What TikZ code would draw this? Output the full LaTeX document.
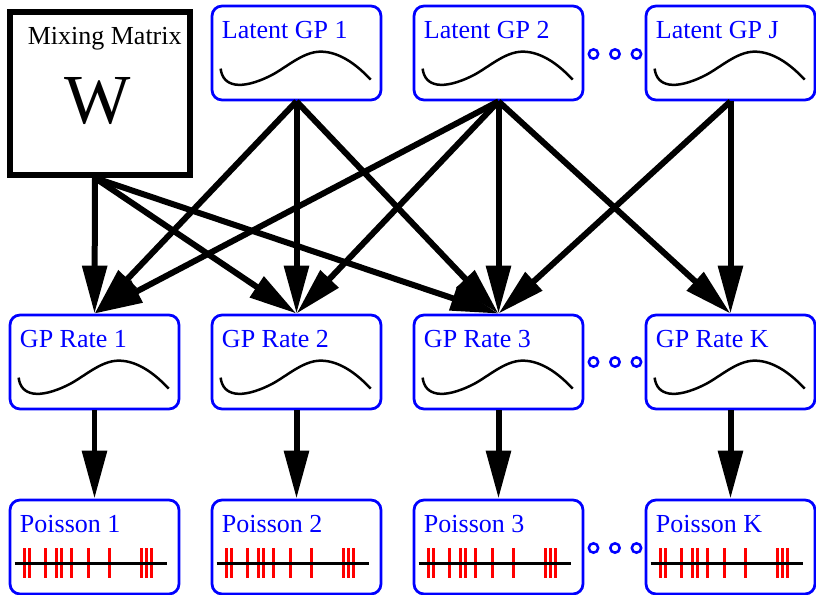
\documentclass[tikz,border=0pt]{standalone}
\usepackage{fontspec}
\setmainfont{Liberation Serif}
\definecolor{gpblue}{RGB}{0,0,255}
\definecolor{spikered}{RGB}{255,0,0}
\usetikzlibrary{arrows.meta,positioning,calc}

\begin{document}
\begin{tikzpicture}[x=0.02cm, y=-0.02cm,
  gpbox/.style={draw=gpblue, line width=0.055cm, rounded corners=0.2cm, minimum width=3.38cm, minimum height=1.88cm, inner sep=0pt},
  gptext/.style={anchor=base west, inner sep=0pt, text=gpblue, font=\fontsize{14.8}{17}\selectfont},
  flow/.style={line width=0.12cm, -{Triangle[length=0.96cm, width=0.48cm]}},
  curve/.style={line width=0.05cm},
  spike/.style={spikered, line width=0.055cm},
  dotc/.style={gpblue, line width=0.05cm}]
  \useasboundingbox (0,0) rectangle (816,595);

  % mixing matrix
  \node[draw, line width=0.12cm, minimum width=3.6cm, minimum height=3.27cm, inner sep=0pt] (mix) at (100,93.25) {};
  \node[anchor=base, inner sep=0pt, font=\fontsize{14.8}{17}\selectfont] (mixt) at (104.7,45) {Mixing Matrix};
  \node[anchor=base, inner sep=0pt, font=\fontsize{40}{44}\selectfont] (mixw) at (98,123) {W};
  \coordinate (mixout) at ([shift={(-5,0)}]mix.south);

  % latent GPs
  \node[gpbox] (lat1) at (296.5,53) {};
  \node[gpbox] (lat2) at (498.5,53) {};
  \node[gpbox] (latJ) at (730.5,53) {};
  \node[gptext] (lat1t) at ([shift={(11,-15)}]lat1.west) {Latent GP 1};
  \node[gptext] (lat2t) at ([shift={(11,-15)}]lat2.west) {Latent GP 2};
  \node[gptext] (latJt) at ([shift={(11,-15)}]latJ.west) {Latent GP J};

  % GP rates
  \node[gpbox] (rate1) at (94.5,362) {};
  \node[gpbox] (rate2) at (296.5,362) {};
  \node[gpbox] (rate3) at (498.5,362) {};
  \node[gpbox] (rateK) at (730.5,362) {};
  \foreach \k in {1,2,3,K}
    \node[gptext] (rate\k t) at ([shift={(11,-15)}]rate\k.west) {GP Rate \k};

  % Poisson
  \node[gpbox] (pois1) at (94.5,547) {};
  \node[gpbox] (pois2) at (296.5,547) {};
  \node[gpbox] (pois3) at (498.5,547) {};
  \node[gpbox] (poisK) at (730.5,547) {};
  \foreach \k in {1,2,3,K}
    \node[gptext] (pois\k t) at ([shift={(11,-15)}]pois\k.west) {Poisson \k};

  % curves
  \foreach \b in {lat1,lat2,latJ,rate1,rate2,rate3,rateK}{
    \begin{scope}[shift={(\b.north west)}]
      \draw[curve] (10,64) .. controls (12,82) and (30,86) .. (60,71)
        .. controls (75,63.5) and (92,47) .. (110,47)
        .. controls (130,47) and (148,62) .. (160,75);
    \end{scope}
  }

  % spike trains
  \foreach \b in {pois1,pois2,pois3,poisK}{
    \begin{scope}[shift={(\b.west)}]
      \foreach \s in {16,21,36.5,47.5,53,63,79.5,101,133,138,143}
        \draw[spike] (\s,1) -- (\s,31);
      \draw[line width=0.06cm] (6,16) -- (158,16);
    \end{scope}
  }

  % dots
  \foreach \y in {54,362,548}
    \foreach \x in {593.5,615,636.5}
      \draw[dotc] (\x,\y) circle (4.7);

  % arrows
  \foreach \t in {rate1,rate2,rate3}
    \draw[flow] (mixout) -- (\t.north);
  \foreach \s/\t in {lat1/rate1,lat1/rate2,lat1/rate3,
      lat2/rate1,lat2/rate2,lat2/rate3,lat2/rateK,latJ/rate3,latJ/rateK}
    \draw[flow] (\s.south) -- (\t.north);
  \foreach \k in {1,2,3,K}
    \draw[flow] (rate\k.south) -- (pois\k.north);
\end{tikzpicture}
\end{document}
